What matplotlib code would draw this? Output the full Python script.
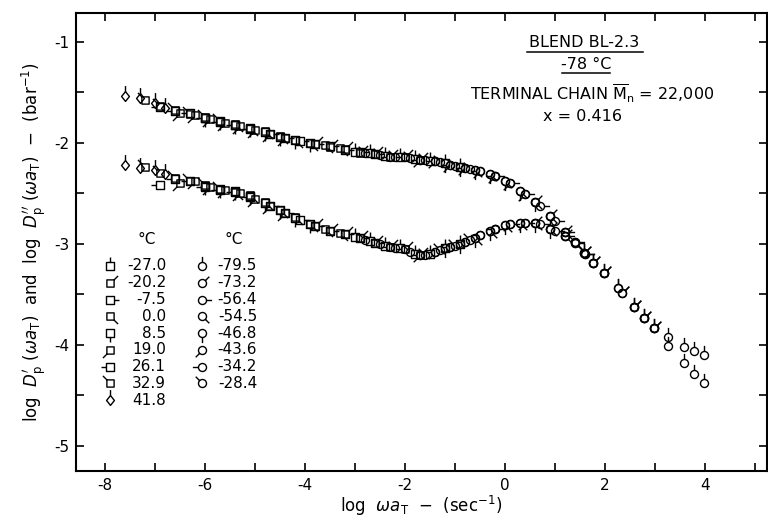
import numpy as np
import matplotlib
matplotlib.use("Agg")
import matplotlib.pyplot as plt
from matplotlib.path import Path
from matplotlib.lines import Line2D

plt.rcParams['font.family'] = 'DejaVu Sans'
plt.rcParams['mathtext.fontset'] = 'dejavusans'

# temperature series: (label, shape, flag direction in degrees, x, log D'p, log D''p)
temps = ['41.8', '32.9', '26.1', '19.0', '8.5', '0.0', '-7.5', '-20.2', '-27.0',
         '-28.4', '-34.2', '-43.6', '-46.8', '-54.5', '-56.4', '-73.2', '-79.5']
shapes = ['d', 's', 's', 's', 's', 's', 's', 's', 's',
          'o', 'o', 'o', 'o', 'o', 'o', 'o', 'o']
flags = [90, 135, 180, -135, -90, -45, 0, 45, 90,
         135, 180, -135, -90, -45, 0, 45, 90]

log_w = [
    [-7.6, -7.3, -7.0, -6.8],
    [-7.2, -6.9, -6.6, -6.3, -6.0, -5.7],
    [-6.9, -6.6, -6.3, -6.0, -5.7, -5.4, -5.1],
    [-6.5, -6.2, -5.9, -5.6, -5.3, -5.0, -4.7, -4.4],
    [-6.0, -5.7, -5.4, -5.1, -4.8, -4.5, -4.2, -3.9],
    [-5.4, -5.1, -4.8, -4.5, -4.2, -3.9, -3.6, -3.3],
    [-4.7, -4.4, -4.1, -3.8, -3.5, -3.2, -2.9, -2.6],
    [-3.8, -3.5, -3.2, -2.9, -2.6, -2.3, -2.0, -1.7],
    [-3.0, -2.7, -2.4, -2.1, -1.8, -1.5, -1.2, -0.9],
    [-2.8, -2.5, -2.2, -1.9, -1.6, -1.3, -1.0, -0.7],
    [-2.3, -2.0, -1.7, -1.4, -1.1, -0.8, -0.5, -0.2],
    [-1.7, -1.4, -1.1, -0.8, -0.5, -0.2, 0.1, 0.4],
    [-1.2, -0.9, -0.6, -0.3, 0.0, 0.3, 0.6, 0.9],
    [-0.6, -0.3, 0.0, 0.3, 0.6, 0.9, 1.2, 1.4],
    [-0.2, 0.1, 0.4, 0.7, 1.0, 1.2, 1.4, 1.6],
    [0.6, 0.9, 1.2, 1.57, 1.76, 1.97, 2.34, 2.57, 2.77, 2.98],
    [1.57, 1.76, 1.97, 2.25, 2.57, 2.77, 2.98, 3.25, 3.58, 3.77, 3.97],
]
d1 = [
    [-1.54, -1.55, -1.60, -1.65],
    [-1.57, -1.63, -1.67, -1.71, -1.74, -1.78],
    [-1.64, -1.68, -1.70, -1.75, -1.79, -1.82, -1.86],
    [-1.70, -1.72, -1.76, -1.80, -1.83, -1.87, -1.91, -1.95],
    [-1.75, -1.78, -1.82, -1.85, -1.89, -1.94, -1.97, -2.00],
    [-1.81, -1.85, -1.88, -1.93, -1.97, -2.00, -2.02, -2.05],
    [-1.91, -1.95, -1.98, -2.01, -2.03, -2.07, -2.09, -2.11],
    [-2.01, -2.04, -2.06, -2.10, -2.11, -2.14, -2.14, -2.17],
    [-2.09, -2.10, -2.13, -2.14, -2.16, -2.18, -2.20, -2.24],
    [-2.10, -2.12, -2.14, -2.15, -2.17, -2.19, -2.23, -2.26],
    [-2.14, -2.14, -2.17, -2.18, -2.22, -2.25, -2.28, -2.33],
    [-2.17, -2.18, -2.22, -2.25, -2.28, -2.33, -2.40, -2.51],
    [-2.20, -2.24, -2.27, -2.31, -2.38, -2.48, -2.58, -2.72],
    [-2.27, -2.31, -2.38, -2.48, -2.58, -2.72, -2.88, -2.98],
    [-2.33, -2.40, -2.51, -2.62, -2.77, -2.88, -2.98, -3.10],
    [-2.58, -2.72, -2.88, -3.09, -3.19, -3.29, -3.49, -3.62, -3.73, -3.83],
    [-3.09, -3.19, -3.29, -3.44, -3.62, -3.73, -3.83, -3.92, -4.02, -4.06, -4.10],
]
d2 = [
    [-2.22, -2.25, -2.27, -2.31],
    [-2.24, -2.30, -2.35, -2.38, -2.42, -2.46],
    [-2.42, -2.36, -2.38, -2.44, -2.47, -2.49, -2.54],
    [-2.40, -2.38, -2.44, -2.47, -2.50, -2.55, -2.62, -2.69],
    [-2.43, -2.46, -2.48, -2.53, -2.59, -2.66, -2.74, -2.80],
    [-2.49, -2.52, -2.58, -2.66, -2.73, -2.80, -2.85, -2.89],
    [-2.62, -2.69, -2.76, -2.82, -2.87, -2.90, -2.94, -2.99],
    [-2.82, -2.87, -2.90, -2.94, -2.99, -3.03, -3.05, -3.11],
    [-2.93, -2.97, -3.02, -3.04, -3.10, -3.10, -3.04, -3.00],
    [-2.96, -3.00, -3.04, -3.08, -3.11, -3.06, -3.02, -2.96],
    [-3.03, -3.05, -3.11, -3.08, -3.03, -2.98, -2.91, -2.85],
    [-3.11, -3.08, -3.03, -2.98, -2.91, -2.85, -2.80, -2.79],
    [-3.04, -3.00, -2.94, -2.87, -2.81, -2.79, -2.79, -2.85],
    [-2.94, -2.87, -2.81, -2.79, -2.79, -2.85, -2.92, -2.99],
    [-2.85, -2.80, -2.79, -2.80, -2.87, -2.92, -2.99, -3.10],
    [-2.79, -2.85, -2.92, -3.09, -3.19, -3.29, -3.49, -3.62, -3.73, -3.83],
    [-3.09, -3.19, -3.29, -3.44, -3.62, -3.73, -3.83, -4.01, -4.18, -4.29, -4.38],
]

legend_left = ['-27.0', '-20.2', '-7.5', '0.0', '8.5', '19.0', '26.1', '32.9', '41.8']
legend_right = ['-79.5', '-73.2', '-56.4', '-54.5', '-46.8', '-43.6', '-34.2', '-28.4']

xticks = list(range(-8, 6))
xlabels = ['-8', '', '-6', '', '-4', '', '-2', '', '0', '', '2', '', '4', '']
yticks = [-5, -4.5, -4, -3.5, -3, -2.5, -2, -1.5, -1]
ylabels = ['-5', '', '-4', '', '-3', '', '-2', '', '-1']

R = 2.6
MS = 15


def flag_marker(shape, ang):
    a = np.radians(ang)
    c, s = np.cos(a), np.sin(a)
    if shape == 'o':
        body = Path.unit_circle()
        start = np.array([c, s])
    elif shape == 's':
        h = 0.9
        body = Path([(-h, -h), (h, -h), (h, h), (-h, h), (-h, -h)],
                    [Path.MOVETO, Path.LINETO, Path.LINETO, Path.LINETO, Path.CLOSEPOLY])
        k = h / max(abs(c), abs(s))
        start = np.array([c * k, s * k])
    else:
        body = Path([(0, 1.25), (1, 0), (0, -1.25), (-1, 0), (0, 1.25)],
                    [Path.MOVETO, Path.LINETO, Path.LINETO, Path.LINETO, Path.CLOSEPOLY])
        start = np.array([0, 1.25])
    end = start + 1.4 * np.array([c, s])
    stick = Path([start, end], [Path.MOVETO, Path.LINETO])
    pad = Path([(R, R)], [Path.MOVETO])
    return Path.make_compound_path(pad, body, stick)


fig = plt.figure(figsize=(7.68, 5.19), dpi=100)
ax = fig.add_axes([0.099, 0.0925, 0.8997, 0.8825])

mk = {}
for t, sh, fl, xs, a, b in zip(temps, shapes, flags, log_w, d1, d2):
    m = flag_marker(sh, fl)
    mk[t] = m
    for ys in (a, b):
        ax.plot(xs, ys, linestyle='none', marker=m, markersize=MS,
                markerfacecolor='none', markeredgecolor='black', markeredgewidth=1.0)

# legend block
ax.text(-7.16, -2.96, '°C', ha='center', va='center', fontsize=11)
ax.text(-5.42, -2.96, '°C', ha='center', va='center', fontsize=11)
row0, step = -3.218, 0.166
for i, t in enumerate(legend_left):
    y = row0 - i * step
    ax.plot([-7.9], [y], linestyle='none', marker=mk[t], markersize=MS,
            markerfacecolor='none', markeredgecolor='black', markeredgewidth=1.0)
    ax.text(-6.78, y, t, ha='right', va='center', fontsize=11)
for i, t in enumerate(legend_right):
    y = row0 - i * step
    ax.plot([-6.06], [y], linestyle='none', marker=mk[t], markersize=MS,
            markerfacecolor='none', markeredgecolor='black', markeredgewidth=1.0)
    ax.text(-4.96, y, t, ha='right', va='center', fontsize=11)

ax.set_xlim(-8.58, 5.24)
ax.set_ylim(-5.248, -0.713)
ax.set_xticks(xticks)
ax.set_xticklabels(xlabels)
ax.set_yticks(yticks)
ax.set_yticklabels(ylabels)
ax.tick_params(direction='in', length=6, width=1.2, top=True, right=True,
               labelsize=11, pad=5)
for sp in ax.spines.values():
    sp.set_linewidth(1.5)

ax.set_xlabel(r'log  $\omega a_\mathrm{T}$  $-$  (sec$^{-1}$)', fontsize=12, labelpad=1)
ax.set_ylabel(r"log  $D_\mathrm{p}^{\prime}$ ($\omega a_\mathrm{T}$)  and  log  $D_\mathrm{p}^{\prime\prime}$ ($\omega a_\mathrm{T}$)  $-$  (bar$^{-1}$)",
              fontsize=12, labelpad=4)

# annotation block
fig.text(0.760, 0.919, 'BLEND BL-2.3', ha='center', va='center', fontsize=11.5)
fig.text(0.763, 0.875, '-78 °C', ha='center', va='center', fontsize=11.5)
fig.text(0.771, 0.819, r'TERMINAL CHAIN $\overline{\mathrm{M}}_\mathrm{n}$ = 22,000',
         ha='center', va='center', fontsize=11.5)
fig.text(0.759, 0.775, 'x = 0.416', ha='center', va='center', fontsize=11.5)
fig.add_artist(Line2D([527 / 768, 643 / 768], [1 - 52 / 519, 1 - 52 / 519],
                      transform=fig.transFigure, color='black', linewidth=1.1))
fig.add_artist(Line2D([562 / 768, 610 / 768], [1 - 73 / 519, 1 - 73 / 519],
                      transform=fig.transFigure, color='black', linewidth=1.1))

fig.savefig('out.png', dpi=100)
